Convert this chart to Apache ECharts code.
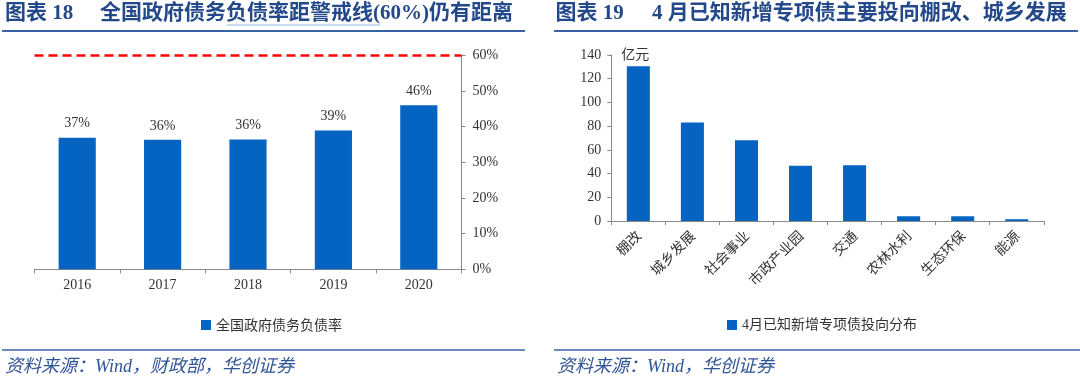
<!DOCTYPE html>
<html>
<head>
<meta charset="utf-8">
<script src="https://cdn.jsdelivr.net/npm/echarts@6/dist/echarts.min.js"></script>
<style>
html,body{margin:0;padding:0;background:#fff;}
#c{width:1080px;height:379px;}
</style>
</head>
<body>
<div id="c"></div>
<script>
// ---- data ----
const years = ['2016', '2017', '2018', '2019', '2020'];
const debtRatio = [36.9, 36.3, 36.4, 38.9, 46.0];
const warningLine = 60;
const leftSeriesName = '全国政府债务负债率';
const leftTicks = [0, 10, 20, 30, 40, 50, 60];

const sectors = ['棚改', '城乡发展', '社会事业', '市政产业园', '交通', '农林水利', '生态环保', '能源'];
const specialBond = [130.5, 83, 68, 46.5, 47, 4, 4, 1.5];
const rightSeriesName = '4月已知新增专项债投向分布';
const rightTicks = [0, 20, 40, 60, 80, 100, 120, 140];
const rightUnit = '亿元';

const leftTitleNo = '图表 18';
const leftTitle = '全国政府债务负债率距警戒线(60%)仍有距离';
const rightTitleNo = '图表 19';
const rightTitle = '4 月已知新增专项债主要投向棚改、城乡发展';
const leftSource = '资料来源：Wind，财政部，华创证券';
const rightSource = '资料来源：Wind，华创证券';

// ---- styles ----
const BAR = '#0563C1';
const AXIS = '#898989';
const TXT = '#333333';
const TITLE = '#24498A';
const RULE = '#3A62A7';
const NUMFONT = "'Liberation Serif', 'Noto Sans CJK SC', serif";
const CJKFONT = "'Noto Sans CJK SC', sans-serif";

const chart = echarts.init(document.getElementById('c'), null, {renderer: 'canvas'});

const option = {
  animation: false,
  backgroundColor: '#ffffff',
  grid: [
    {left: 34.5, right: 618.5, top: 55.3, bottom: 109.7, containLabel: false},
    {left: 611.3, right: 36.2, top: 55, bottom: 158, containLabel: false}
  ],
  legend: [
    {
      data: [leftSeriesName], left: 196, top: 313, itemWidth: 10, itemHeight: 10,
      icon: 'rect', textStyle: {fontSize: 14, color: TXT, fontFamily: CJKFONT}
    },
    {
      data: [rightSeriesName], left: 722, top: 313, itemWidth: 10, itemHeight: 10,
      icon: 'rect', textStyle: {fontSize: 14, color: TXT, fontFamily: NUMFONT}
    }
  ],
  xAxis: [
    {
      type: 'category', gridIndex: 0, data: years, boundaryGap: true,
      axisLine: {show: true, lineStyle: {color: AXIS, width: 1}},
      axisTick: {show: true, length: 4, lineStyle: {color: AXIS}},
      axisLabel: {fontSize: 14, color: TXT, fontFamily: NUMFONT, margin: 9}
    },
    {
      type: 'category', gridIndex: 1, data: sectors, boundaryGap: true,
      axisLine: {show: true, lineStyle: {color: AXIS, width: 1}},
      axisTick: {show: true, length: 4, lineStyle: {color: AXIS}},
      axisLabel: {fontSize: 14, color: TXT, fontFamily: CJKFONT, rotate: 45, interval: 0, margin: 12}
    }
  ],
  yAxis: [
    {
      type: 'value', gridIndex: 0, position: 'right',
      min: leftTicks[0], max: leftTicks[leftTicks.length - 1], interval: leftTicks[1] - leftTicks[0],
      axisLine: {show: true, lineStyle: {color: AXIS, width: 1}},
      axisTick: {show: true, length: 4, lineStyle: {color: AXIS}},
      splitLine: {show: false},
      axisLabel: {formatter: '{value}%', fontSize: 14, color: TXT, fontFamily: NUMFONT, margin: 11}
    },
    {
      type: 'value', gridIndex: 1, position: 'left',
      min: rightTicks[0], max: rightTicks[rightTicks.length - 1], interval: rightTicks[1] - rightTicks[0],
      name: rightUnit, nameLocation: 'end', nameGap: 1,
      nameTextStyle: {fontSize: 14, color: TXT, fontFamily: CJKFONT, align: 'left', verticalAlign: 'middle', padding: [0, 0, 0, 10]},
      axisLine: {show: true, lineStyle: {color: AXIS, width: 1}},
      axisTick: {show: true, length: 4, lineStyle: {color: AXIS}},
      splitLine: {show: false},
      axisLabel: {fontSize: 14, color: TXT, fontFamily: NUMFONT, margin: 10}
    }
  ],
  series: [
    {
      name: leftSeriesName, type: 'bar', xAxisIndex: 0, yAxisIndex: 0,
      data: debtRatio, barWidth: '43.5%',
      itemStyle: {color: BAR},
      label: {
        show: true, position: 'top', distance: 7, fontSize: 14, color: TXT, fontFamily: NUMFONT,
        formatter: p => Math.round(p.value) + '%'
      },
      markLine: {
        silent: true, symbol: ['none', 'none'],
        label: {show: false},
        lineStyle: {color: '#FF0000', type: [9, 5], width: 2.5},
        data: [{yAxis: warningLine}]
      }
    },
    {
      name: rightSeriesName, type: 'bar', xAxisIndex: 1, yAxisIndex: 1,
      data: specialBond, barWidth: '42.6%',
      itemStyle: {color: BAR}
    }
  ],
  graphic: [
    // left header
    {type: 'text', left: 5, top: 3, style: {text: leftTitleNo, font: "bold 21px " + NUMFONT, fill: TITLE}},
    {type: 'text', left: 100, top: 3, style: {text: leftTitle, font: "bold 21px " + NUMFONT, fill: TITLE}},
    {type: 'line', shape: {x1: 227, y1: 25, x2: 380, y2: 25}, style: {stroke: '#8FB4E3', lineWidth: 1}},
    {type: 'line', shape: {x1: 2, y1: 31, x2: 525, y2: 31}, style: {stroke: RULE, lineWidth: 2}},
    // right header
    {type: 'text', left: 555.5, top: 3, style: {text: rightTitleNo, font: "bold 21px " + NUMFONT, fill: TITLE}},
    {type: 'text', left: 652, top: 3, style: {text: rightTitle, font: "bold 21px " + NUMFONT, fill: TITLE}},
    {type: 'line', shape: {x1: 554, y1: 31, x2: 1078, y2: 31}, style: {stroke: RULE, lineWidth: 2}},
    // footers
    {type: 'line', shape: {x1: 2, y1: 350, x2: 525, y2: 350}, style: {stroke: RULE, lineWidth: 1.5}},
    {type: 'line', shape: {x1: 554, y1: 350, x2: 1080, y2: 350}, style: {stroke: RULE, lineWidth: 1.5}},
    {type: 'text', left: 5, top: 358, style: {text: leftSource, font: "italic 18px " + NUMFONT, fill: '#2F5597'}},
    {type: 'text', left: 557, top: 358, style: {text: rightSource, font: "italic 18px " + NUMFONT, fill: '#2F5597'}}
  ]
};
chart.setOption(option);
</script>
</body>
</html>
